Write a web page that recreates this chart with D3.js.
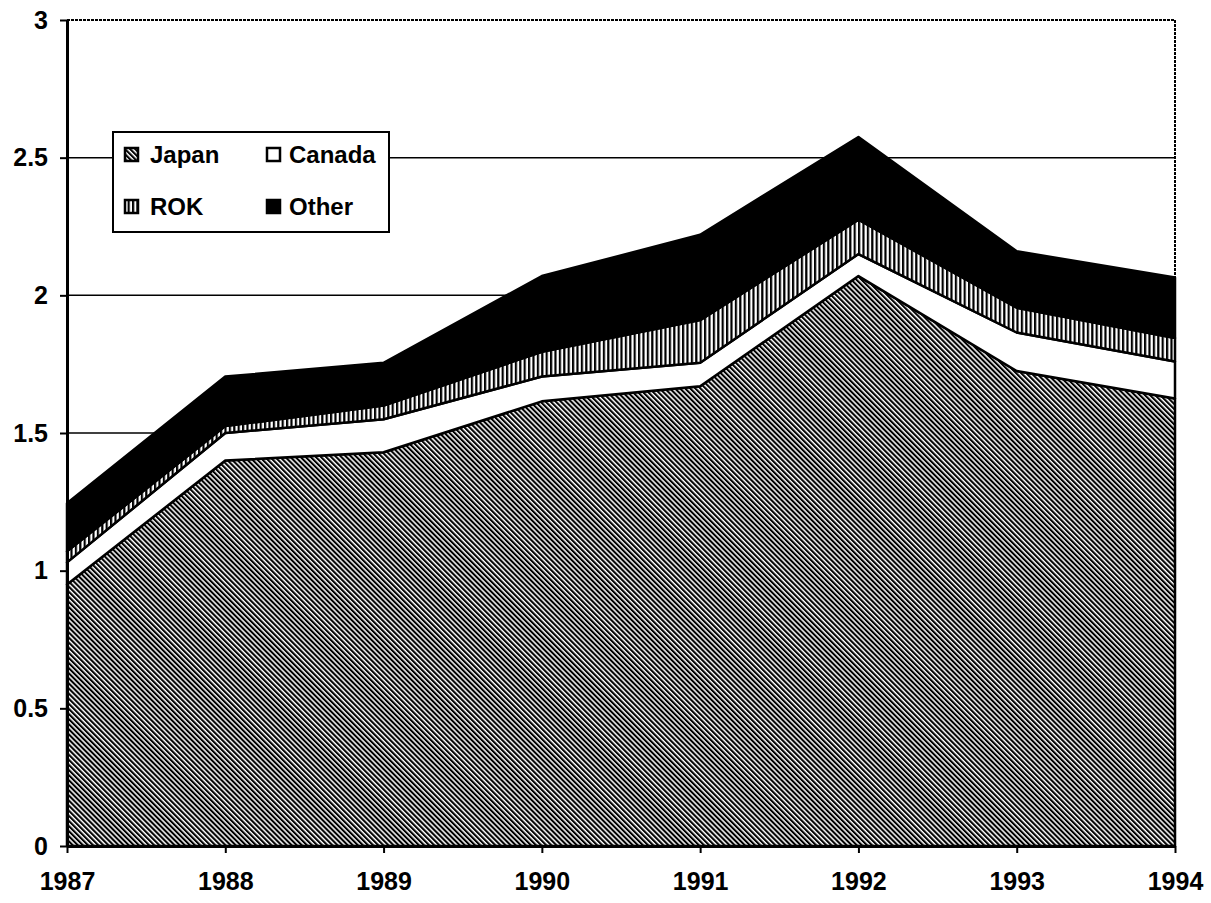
<!DOCTYPE html>
<meta charset="utf-8">
<style>
body { margin: 0; background: #fff; }
text { font-family: "Liberation Sans", Arial, sans-serif; font-weight: bold; }
.axis text { font-size: 25px; fill: #000; }
.axis path, .axis line { stroke: #000; }
.legend text { font-size: 24px; }
</style>
<body>
<script src="https://d3js.org/d3.v7.min.js"></script>
<script>

// data (stacked, bottom to top)
var years  = [1987, 1988, 1989, 1990, 1991, 1992, 1993, 1994];
var japan  = [0.95, 1.40, 1.43, 1.615, 1.67, 2.07, 1.725, 1.625];
var canada = [0.08, 0.10, 0.12, 0.09, 0.085, 0.08, 0.14, 0.135];
var rok    = [0.04, 0.025, 0.05, 0.09, 0.155, 0.125, 0.09, 0.085];
var other  = [0.175, 0.18, 0.155, 0.275, 0.31, 0.30, 0.205, 0.22];
var yTicks = [0, 0.5, 1, 1.5, 2, 2.5, 3];
var seriesNames = ["Japan", "Canada", "ROK", "Other"];

var width = 1211, height = 903;
var plotLeft = 67, plotRight = 1175, plotTop = 20, plotBottom = 846;

var svg = d3.select("body").append("svg")
    .attr("width", width)
    .attr("height", height);

// patterns
var defs = svg.append("defs");
var hatch = defs.append("pattern")
    .attr("id", "hatch")
    .attr("patternUnits", "userSpaceOnUse")
    .attr("width", 3.6).attr("height", 10)
    .attr("patternTransform", "rotate(-45)");
hatch.append("rect").attr("width", 3.6).attr("height", 10).attr("fill", "#fff");
hatch.append("rect").attr("width", 2.1).attr("height", 10).attr("fill", "#000");

var vstripe = defs.append("pattern")
    .attr("id", "vstripe")
    .attr("patternUnits", "userSpaceOnUse")
    .attr("width", 4.4).attr("height", 10);
vstripe.append("rect").attr("width", 4.4).attr("height", 10).attr("fill", "#fff");
vstripe.append("rect").attr("width", 2.2).attr("height", 10).attr("fill", "#000");

var fills = {Japan: "url(#hatch)", Canada: "#fff", ROK: "url(#vstripe)", Other: "#000"};

var table = years.map(function(yr, i) {
  return {year: yr, Japan: japan[i], Canada: canada[i], ROK: rok[i], Other: other[i]};
});

var x = d3.scaleLinear().domain([1987, 1994]).range([plotLeft, plotRight]);
var y = d3.scaleLinear().domain([0, 3]).range([plotBottom, plotTop]);

// gridlines
svg.append("g")
  .selectAll("line")
  .data(yTicks.filter(function(d) { return d > 0 && d < 3; }))
  .enter().append("line")
    .attr("x1", plotLeft).attr("x2", plotRight)
    .attr("y1", function(d) { return y(d); })
    .attr("y2", function(d) { return y(d); })
    .attr("stroke", "#000")
    .attr("stroke-width", 1.5);

// frame top and right
svg.append("path")
    .attr("d", "M" + plotLeft + "," + y(3) + "H" + plotRight + "V" + plotBottom)
    .attr("fill", "none")
    .attr("stroke", "#000")
    .attr("stroke-width", 2)
    .attr("stroke-dasharray", "3,1");

// stacked areas
var stack = d3.stack().keys(seriesNames);
var layers = stack(table);

var area = d3.area()
    .x(function(d) { return x(d.data.year); })
    .y0(function(d) { return y(d[0]); })
    .y1(function(d) { return y(d[1]); });

svg.append("g")
  .selectAll("path")
  .data(layers)
  .enter().append("path")
    .attr("d", area)
    .attr("fill", function(d) { return fills[d.key]; })
    .attr("stroke", "#000")
    .attr("stroke-width", 2.5)
    .attr("stroke-linejoin", "round");

// axes
var yAxis = svg.append("g")
    .attr("class", "axis")
    .attr("transform", "translate(" + plotLeft + ",0)")
    .call(d3.axisLeft(y).tickValues(yTicks).tickFormat(function(d) { return String(d); })
      .tickSize(7).tickPadding(12).tickSizeOuter(0));
yAxis.select(".domain").attr("stroke-width", 3);
yAxis.selectAll(".tick line").attr("stroke-width", 2);

var xAxis = svg.append("g")
    .attr("class", "axis")
    .attr("transform", "translate(0," + plotBottom + ")")
    .call(d3.axisBottom(x).tickValues(years).tickFormat(d3.format("d"))
      .tickSize(7).tickPadding(19).tickSizeOuter(0));
xAxis.select(".domain").attr("stroke-width", 3);
xAxis.selectAll(".tick line").attr("stroke-width", 2);

// legend
var legend = svg.append("g").attr("class", "legend");
legend.append("rect")
    .attr("x", 113).attr("y", 132)
    .attr("width", 276).attr("height", 100)
    .attr("fill", "#fff")
    .attr("stroke", "#000")
    .attr("stroke-width", 2);

var legendPos = [
  {name: "Japan",  sx: 125, tx: 150, ty: 163},
  {name: "Canada", sx: 267, tx: 289, ty: 163},
  {name: "ROK",    sx: 125, tx: 150, ty: 215},
  {name: "Other",  sx: 267, tx: 289, ty: 215}
];

var items = legend.selectAll("g.item")
  .data(legendPos)
  .enter().append("g").attr("class", "item");

items.append("rect")
    .attr("x", function(d) { return d.sx; })
    .attr("y", function(d) { return d.ty - 15; })
    .attr("width", 13).attr("height", 13)
    .attr("fill", function(d) { return fills[d.name]; })
    .attr("stroke", "#000")
    .attr("stroke-width", 2.5);

items.append("text")
    .attr("x", function(d) { return d.tx; })
    .attr("y", function(d) { return d.ty; })
    .text(function(d) { return d.name; });

</script>
</body>
